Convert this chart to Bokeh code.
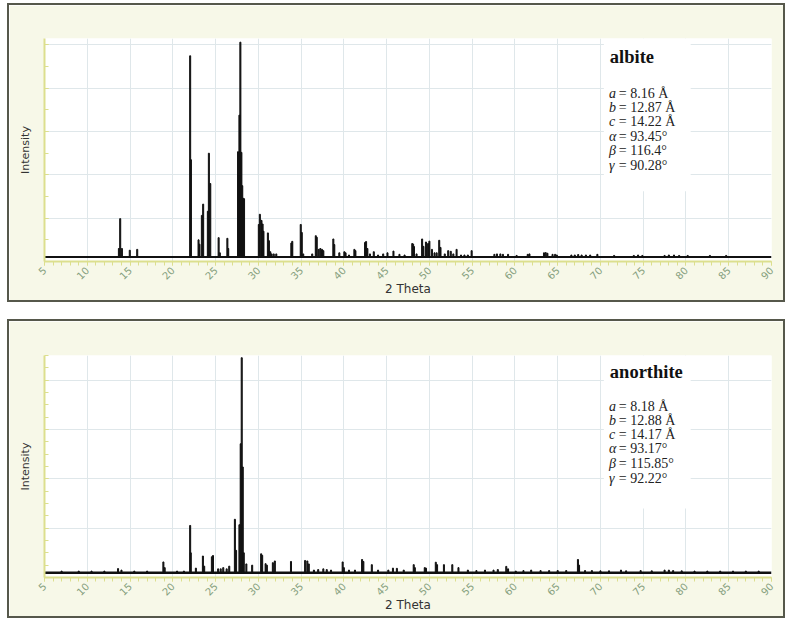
from bokeh.plotting import figure
from bokeh.models import (Range1d, SingleIntervalTicker, BoxAnnotation, Label,
                          CustomJSTickFormatter)
from bokeh.layouts import column
from bokeh.embed import file_html
from bokeh.resources import INLINE

# ---------------- data ----------------
x_start, x_end = 5, 90

albite_pos = [13.70, 13.85, 14.05, 14.97, 15.84,
              22.03, 22.12, 23.01, 23.12, 23.40, 23.55,
              24.10, 24.22, 24.38, 25.36, 25.50, 26.38, 26.48,
              27.63, 27.72, 27.79, 27.90, 28.02, 28.12, 28.22, 28.33,
              30.06, 30.18, 30.37, 30.50, 30.60, 31.12, 31.24, 31.40, 31.55, 31.80, 32.10,
              33.86, 33.97, 34.96, 35.08, 35.25, 36.30, 36.72, 36.83, 37.05, 37.25, 37.45, 37.60,
              38.77, 38.88, 39.47, 40.06, 40.20, 40.60, 41.23, 41.35,
              42.48, 42.60, 42.75, 43.05, 43.50, 44.00, 44.60, 45.10, 45.80, 46.50, 47.10,
              48.00, 48.10, 48.20, 48.50, 49.15, 49.30, 49.60, 49.85, 50.00, 50.30, 50.60, 50.85,
              51.15, 51.30, 51.80, 52.20, 52.50, 52.80, 53.18, 53.70, 54.10, 54.50, 54.94,
              57.60, 57.90, 58.30, 58.60, 59.20, 60.20, 61.50, 61.70, 63.40, 63.60, 63.80,
              64.40, 64.70, 64.90, 66.60, 67.00, 67.40, 67.80, 68.30, 68.80, 69.64,
              71.60, 73.90, 74.40, 74.90, 77.50, 78.00, 78.60, 79.20, 80.20, 82.80, 84.70]
albite_int = [6.0, 19.8, 6.0, 5.2, 5.6,
              95.0, 47.0, 10.0, 8.0, 21.3, 26.5,
              23.2, 50.0, 36.0, 11.0, 4.0, 10.7, 6.0,
              50.7, 40.0, 67.6, 101.3, 50.4, 35.0, 29.2, 29.0,
              17.1, 21.8, 19.0, 17.3, 14.0, 13.2, 9.6, 4.5, 3.5, 3.5, 3.5,
              8.5, 9.3, 17.1, 13.4, 3.5, 3.5, 11.9, 11.2, 5.6, 6.0, 5.6, 5.0,
              10.4, 7.8, 4.0, 4.5, 4.0, 3.0, 5.6, 5.0,
              8.8, 9.2, 6.0, 3.5, 4.5, 3.0, 3.5, 4.0, 4.8, 3.3, 3.0,
              8.3, 8.0, 6.9, 3.5, 10.4, 7.0, 9.0, 8.3, 9.4, 5.6, 4.0, 4.0,
              9.8, 6.5, 3.5, 5.0, 4.7, 3.5, 5.6, 3.0, 3.0, 3.0, 5.0,
              3.3, 3.5, 3.5, 3.3, 3.3, 2.8, 3.3, 3.5, 4.0, 4.1, 3.8,
              3.3, 3.3, 3.0, 3.0, 3.0, 3.2, 3.0, 3.0, 3.0, 3.3,
              2.8, 2.8, 3.0, 2.8, 2.8, 3.0, 3.0, 2.8, 2.8, 2.8, 2.8]
albite_base = 2.1

anorthite_pos = [7.0, 9.0, 10.5, 12.0, 13.6, 14.0, 15.5, 17.0, 18.9, 19.05, 20.5, 21.3,
                 22.03, 22.10, 22.70, 23.52, 23.67, 24.57, 24.70,
                 25.30, 25.60, 25.90, 26.30, 26.60,
                 27.26, 27.40, 27.79, 27.94, 28.06, 28.18, 28.30, 28.60, 29.28,
                 30.33, 30.45, 30.85, 31.00, 31.70, 31.93, 33.82, 35.47, 35.73, 35.90,
                 36.50, 37.00, 37.60, 38.00, 38.50, 39.86, 40.00, 40.60, 41.30,
                 42.13, 42.28, 43.27, 44.00, 45.20, 45.74, 46.20, 47.00,
                 48.17, 48.30, 49.46, 49.60, 50.75, 50.90, 51.70, 52.68, 53.40, 54.50,
                 55.50, 56.50, 57.50, 58.00, 58.99, 59.20, 60.10, 61.00, 61.90, 63.00,
                 64.00, 65.00, 66.00, 67.37, 67.50, 68.20, 69.00, 70.00, 71.00, 72.40,
                 73.00, 74.70, 76.00, 77.50, 78.00, 78.50, 79.50, 81.00, 82.50, 84.00,
                 85.50, 87.00, 88.50]
anorthite_int = [2.6, 2.6, 2.6, 2.6, 3.6, 3.0, 2.6, 2.6, 6.3, 4.0, 2.6, 2.6,
                 21.1, 10.0, 3.8, 8.7, 4.6, 8.4, 8.9,
                 3.5, 3.5, 4.0, 3.5, 4.6,
                 23.6, 11.0, 21.4, 54.2, 89.1, 44.8, 10.0, 5.5, 5.0,
                 9.6, 9.0, 5.6, 5.0, 6.0, 6.7, 6.5, 6.9, 6.7, 5.5,
                 3.0, 3.2, 3.5, 3.2, 3.0, 6.3, 4.0, 3.0, 3.0,
                 7.3, 6.5, 5.2, 3.0, 3.0, 3.8, 3.7, 3.0,
                 5.2, 4.0, 4.0, 3.8, 6.2, 5.2, 5.2, 5.2, 4.0, 3.0,
                 2.8, 3.0, 3.0, 3.2, 4.5, 3.5, 2.6, 2.8, 3.0, 2.8,
                 2.8, 2.8, 2.8, 7.3, 5.0, 2.8, 2.8, 2.7, 2.7, 3.0,
                 2.7, 2.8, 2.7, 3.0, 3.0, 2.8, 2.7, 2.6, 2.6, 2.6,
                 2.6, 2.6, 2.6]
anorthite_base = 1.9

albite_letters = ["a", "b", "c", "α", "β", "γ"]
albite_values = ["= 8.16 Å", "= 12.87 Å", "= 14.22 Å", "= 93.45°", "= 116.4°", "= 90.28°"]
anorthite_letters = ["a", "b", "c", "α", "β", "γ"]
anorthite_values = ["= 8.18 Å", "= 12.88 Å", "= 14.17 Å", "= 93.17°", "= 115.85°", "= 92.22°"]

# ---------------- styling ----------------
CREAM = "#f7f8e8"
GRID = "#dfe7ea"
AXIS_Y = "#dcdf8e"
TICK_LBL = "#86a07e"
BORDER = "#56584b"


def panel(name, pos, inten, base, y_end, n_minor, letters, values,
          box_bottom, name_y, line_ys, top_border, line_w):
    p = figure(width=778, height=299, x_range=Range1d(x_start, x_end),
               y_range=Range1d(0, y_end), output_backend="svg",
               toolbar_location=None, min_border_left=35, min_border_right=16,
               min_border_top=top_border, min_border_bottom=43,
               styles={"border": "2px solid " + BORDER})
    p.background_fill_color = "white"
    p.border_fill_color = CREAM
    p.outline_line_color = None

    # x axis
    xa = p.xaxis[0]
    xa.ticker = SingleIntervalTicker(interval=5, num_minor_ticks=5)
    xa.axis_line_color = AXIS_Y
    xa.axis_line_width = 2
    xa.major_tick_line_color = AXIS_Y
    xa.minor_tick_line_color = AXIS_Y
    xa.major_tick_in = 0
    xa.major_tick_out = 4
    xa.minor_tick_in = 0
    xa.minor_tick_out = 4
    xa.major_label_orientation = 0.785
    xa.major_label_text_color = TICK_LBL
    xa.major_label_text_font = "DejaVu Sans"
    xa.major_label_text_font_size = "10px"
    xa.major_label_standoff = 3
    xa.axis_label = "2 Theta"
    xa.axis_label_text_font = "DejaVu Sans"
    xa.axis_label_text_font_size = "12px"
    xa.axis_label_text_font_style = "normal"
    xa.axis_label_text_color = "#333333"
    xa.axis_label_standoff = -4

    # y axis (ticks only, no tick labels)
    ya = p.yaxis[0]
    ya.ticker = SingleIntervalTicker(interval=20, num_minor_ticks=n_minor)
    ya.formatter = CustomJSTickFormatter(code="return '';")
    ya.axis_line_color = AXIS_Y
    ya.axis_line_width = 2
    ya.major_tick_line_color = AXIS_Y
    ya.minor_tick_line_color = AXIS_Y
    ya.major_tick_in = 4
    ya.major_tick_out = 0
    ya.minor_tick_in = 4
    ya.minor_tick_out = 0
    ya.major_label_standoff = 0
    ya.axis_label = "Intensity"
    ya.axis_label_text_font = "DejaVu Sans"
    ya.axis_label_text_font_size = "11px"
    ya.axis_label_text_font_style = "normal"
    ya.axis_label_text_color = "#333333"
    ya.axis_label_standoff = 13

    p.xgrid.grid_line_color = GRID
    p.ygrid.grid_line_color = GRID

    # pattern
    p.line([x_start, x_end], [base, base], line_color="#111111", line_width=line_w)
    p.vbar(x=pos, width=0.12, bottom=base, top=inten,
           fill_color="#111111", line_color="#111111", line_width=1)

    # white box for the cell parameters
    p.add_layout(BoxAnnotation(left=70.4, right=80.55, bottom=box_bottom,
                               fill_color="white", fill_alpha=1.0,
                               line_alpha=0, level="underlay"))
    p.add_layout(Label(x=71.1, y=name_y, text=name, text_font="Liberation Serif",
                       text_font_style="bold", text_font_size="18.5px",
                       text_color="#111111", text_baseline="alphabetic"))
    for lt, vt, yy in zip(letters, values, line_ys):
        p.add_layout(Label(x=71.0, y=yy, text=lt, text_font="Liberation Serif",
                           text_font_style="italic", text_font_size="14px",
                           text_color="#222222", text_baseline="middle"))
        p.add_layout(Label(x=72.15, y=yy, text=vt, text_font="Liberation Serif",
                           text_font_size="14px", text_color="#222222",
                           text_baseline="middle"))
    return p


p1 = panel("albite", albite_pos, albite_int, albite_base, 103, 2,
           albite_letters, albite_values, 32.5, 94.6,
           [77.8, 71.1, 64.5, 57.9, 51.3, 44.2], 33, 2)
p2 = panel("anorthite", anorthite_pos, anorthite_int, anorthite_base, 90, 4,
           anorthite_letters, anorthite_values, 28.0, 83.2,
           [69.4, 63.6, 57.9, 52.1, 46.3, 40.3], 34, 2.5)

layout = column(p1, p2, spacing=17,
                styles={"margin-left": "7px", "margin-top": "3px"})

open("out.html", "w").write(file_html(layout, INLINE))
